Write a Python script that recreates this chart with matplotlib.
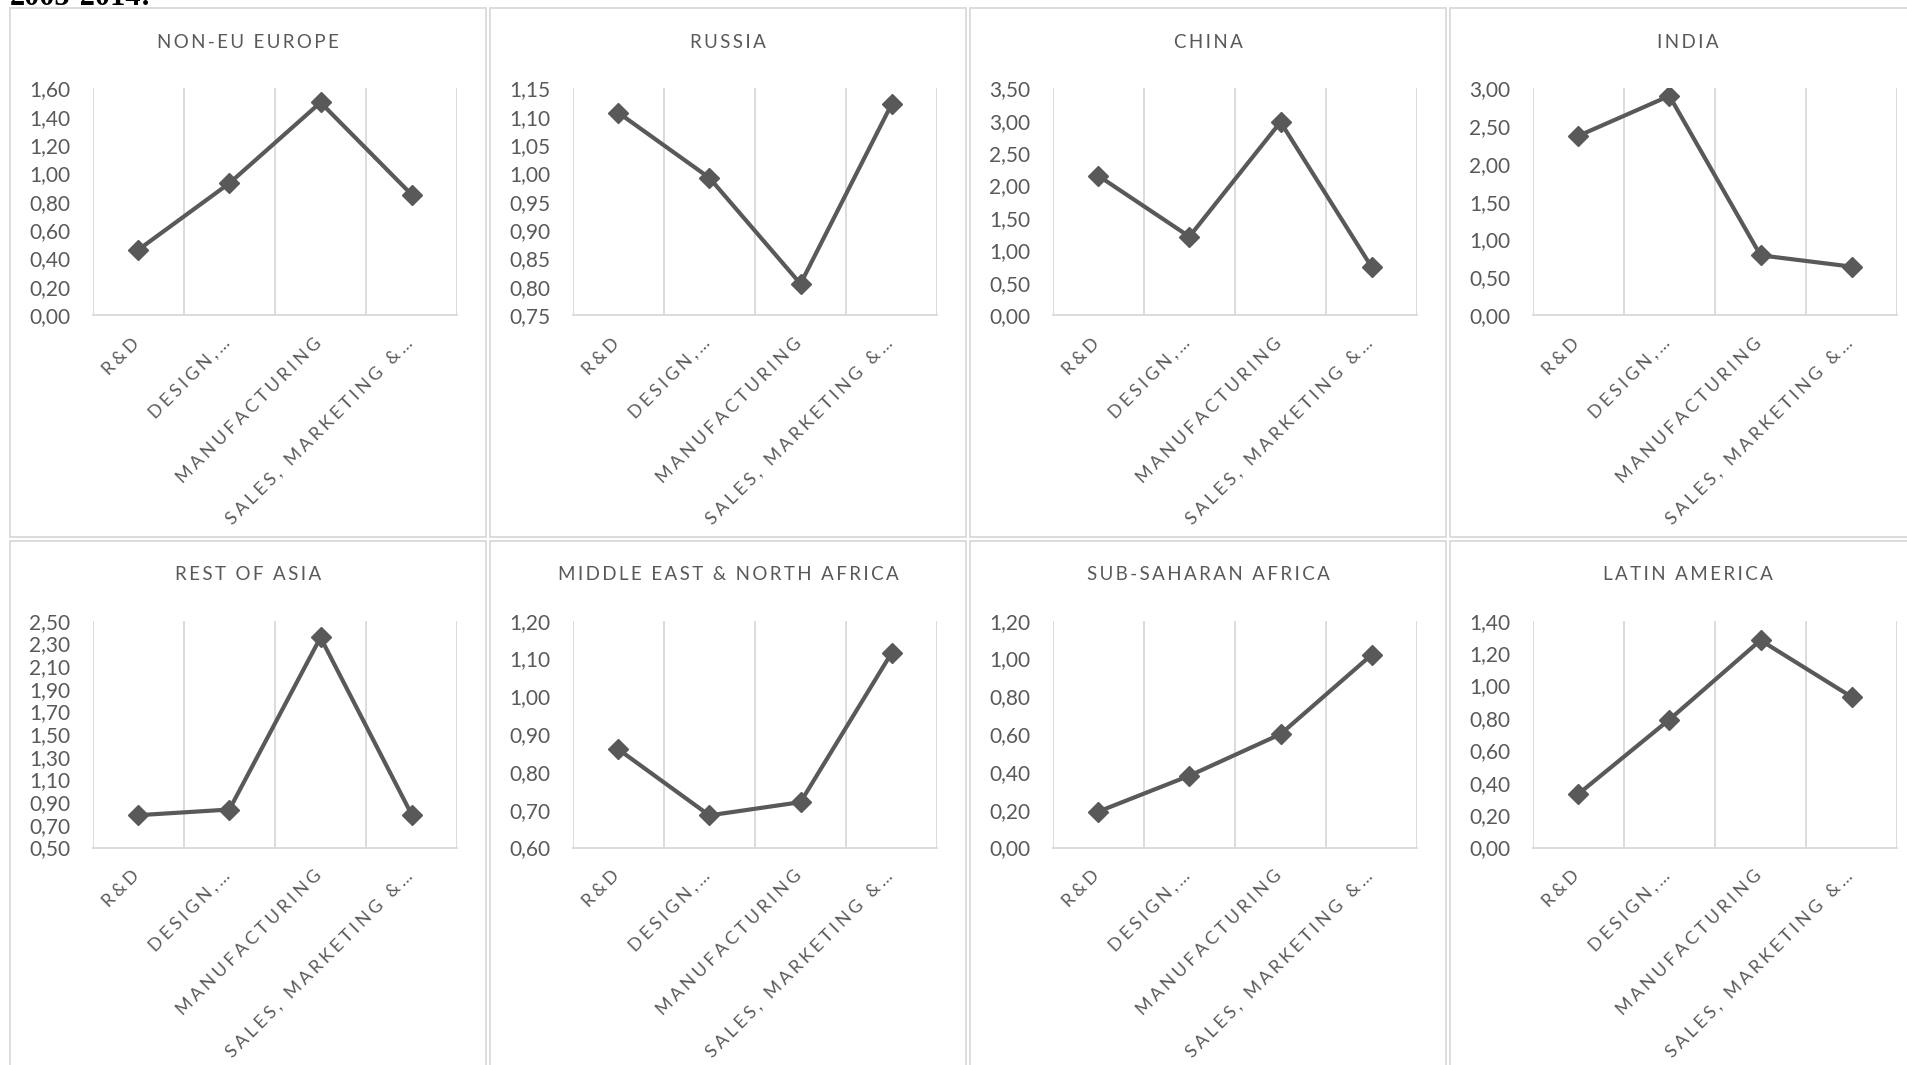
import matplotlib.pyplot as plt
from matplotlib.patches import Rectangle
from matplotlib.ticker import FixedLocator
from matplotlib.transforms import ScaledTranslation, blended_transform_factory

plt.rcParams['font.family'] = ['Lato', 'DejaVu Sans']

stages = ['R&D', 'DESIGN,…', 'MANUFACTURING', 'SALES, MARKETING &…']

regions = ['NON-EU EUROPE', 'RUSSIA', 'CHINA', 'INDIA',
           'REST OF ASIA', 'MIDDLE EAST & NORTH AFRICA', 'SUB-SAHARAN AFRICA', 'LATIN AMERICA']

non_eu_europe = [0.46, 0.93, 1.50, 0.85]
russia = [1.107, 0.992, 0.805, 1.122]
china = [2.15, 1.21, 2.98, 0.74]
india = [2.37, 2.90, 0.79, 0.64]
rest_of_asia = [0.785, 0.835, 2.353, 0.791]
mena = [0.86, 0.685, 0.72, 1.115]
sub_saharan = [0.19, 0.38, 0.60, 1.02]
latin_america = [0.33, 0.79, 1.28, 0.93]

series = [non_eu_europe, russia, china, india, rest_of_asia, mena, sub_saharan, latin_america]

# y-axis (min, max, step) per region
y_scales = [(0, 1.6, 0.2), (0.75, 1.15, 0.05), (0, 3.5, 0.5), (0, 3.0, 0.5),
            (0.5, 2.5, 0.2), (0.6, 1.2, 0.1), (0, 1.2, 0.2), (0, 1.4, 0.2)]

W, H = 1907, 1065
GREY = '#595959'
LIGHT = '#d9d9d9'


def spaced(s, gap='\u2009'):
    return gap.join(s)


fig = plt.figure(figsize=(W / 100, H / 100), dpi=100)
fig.patch.set_facecolor('white')

# heading of the page above the charts (mostly off the top edge)
fig.text(10 / W, 1 - 5 / H, '2005-2014:', fontfamily='Liberation Serif',
         fontweight='bold', fontsize=22, color='black', va='baseline', ha='left')

label_offset = ScaledTranslation(4 / 100, -20 / 100, fig.dpi_scale_trans)

for i, (name, vals, (lo, hi, step)) in enumerate(zip(regions, series, y_scales)):
    r, c = divmod(i, 4)

    # chart frame
    fig.patches.append(Rectangle(((10 + 480 * c) / W, 1 - (537 + 533 * r) / H),
                                 476 / W, 529 / H, transform=fig.transFigure,
                                 fill=False, edgecolor=LIGHT, linewidth=1.3))

    fig.text((248 + 480 * c) / W, 1 - (42 + 533 * r) / H, spaced(name),
             ha='center', va='center', fontsize=13.5, color=GREY)

    ax = fig.add_axes([(92.7 + 480 * c) / W, 1 - (315 + 532.5 * r) / H,
                       364.5 / W, 226.7 / H])
    x = list(range(len(stages)))
    ax.plot(x, vals, color=GREY, linewidth=3, marker='D', markersize=10,
            markeredgecolor=GREY, markerfacecolor=GREY, zorder=3)

    ax.set_xlim(-0.5, len(stages) - 0.5)
    ax.set_ylim(lo, hi)
    n = int(round((hi - lo) / step))
    ticks = [lo + k * step for k in range(n + 1)]
    ax.set_yticks(ticks)
    ax.set_yticklabels([f'{t:.2f}'.replace('.', ',') for t in ticks])

    # category labels, slanted, hanging below each category
    ax.set_xticks(x)
    ax.set_xticklabels([])
    trans = blended_transform_factory(ax.transData, ax.transAxes) + label_offset
    for k, s in enumerate(stages):
        ax.text(k, 0, spaced(s, '\u2009\u200a'), transform=trans, rotation=45,
                ha='right', va='top', fontsize=13, color=GREY, clip_on=False)

    ax.xaxis.set_minor_locator(FixedLocator([k - 0.5 for k in range(len(stages) + 1)]))
    ax.grid(which='minor', axis='x', color=LIGHT, linewidth=1.3)
    ax.tick_params(axis='x', which='both', length=0)
    ax.tick_params(axis='y', length=0, pad=16, labelsize=15, labelcolor=GREY)

    for side in ['top', 'right', 'left']:
        ax.spines[side].set_visible(False)
    ax.spines['bottom'].set_color(LIGHT)
    ax.spines['bottom'].set_linewidth(1.3)

fig.savefig('out.png', dpi=100)
